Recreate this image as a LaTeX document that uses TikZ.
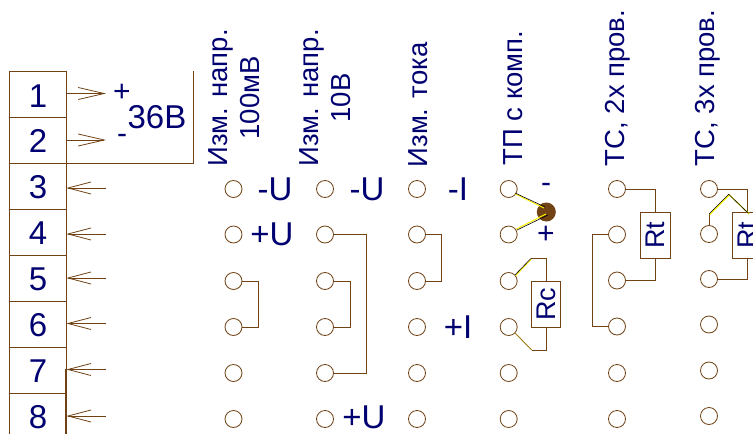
\documentclass[tikz,border=0pt]{standalone}
\usepackage{fontspec}
\setmainfont{Liberation Sans}
\usetikzlibrary{arrows.meta,calc}
\definecolor{wirec}{HTML}{704214}
\definecolor{txtc}{HTML}{000070}
\tikzset{
  wire/.style={draw=wirec,line width=0.8pt},
  cell/.style={draw=wirec,line width=0.8pt,minimum width=57pt,minimum height=46pt,inner sep=0pt,text=txtc},
  term/.style={circle,draw=wirec,line width=0.8pt,minimum size=17pt,inner sep=0pt},
  res/.style={draw=wirec,fill=white,line width=0.8pt,rotate=90,minimum width=46pt,minimum height=29.5pt,inner sep=0pt,text=txtc,font=\fontsize{27}{27}\selectfont},
  lab/.style={text=txtc,inner sep=0pt,font=\fontsize{33}{33}\selectfont},
  smalllab/.style={text=txtc,inner sep=0pt,font=\fontsize{30}{30}\selectfont},
  head/.style={text=txtc,inner sep=0pt,rotate=90,align=center,font=\fontsize{27.5}{32}\selectfont},
  inarrow/.style={wire,-{Straight Barb[length=23pt,width=12pt,line width=0.8pt]}},
  outarrow/.style={wire,-{Straight Barb[length=26pt,width=12pt,line width=0.8pt]}},
  yw/.style={draw=yellow,line width=1pt},
  bw/.style={draw=black,line width=0.6pt}
}
\begin{document}
\begin{tikzpicture}[x=1pt,y=-1pt]
\useasboundingbox (0,0) rectangle (753,434);
\clip (0,0) rectangle (753,434);
% terminal block
\node[cell] (c1) at (37.5,94) {};
\node[cell] (c2) at (37.5,140) {};
\node[cell] (c3) at (37.5,186) {};
\node[cell] (c4) at (37.5,232) {};
\node[cell] (c5) at (37.5,278) {};
\node[cell] (c6) at (37.5,324) {};
\node[cell] (c7) at (37.5,370) {};
\node[cell] (c8) at (37.5,416) {};
\node[lab] (n1) at (38,96) {1};
\node[lab] (n2) at (38,141) {2};
\node[lab] (n3) at (38,187) {3};
\node[lab] (n4) at (38,233) {4};
\node[lab] (n5) at (38,279) {5};
\node[lab] (n6) at (38,325) {6};
\node[lab] (n7) at (38,371) {7};
\node[lab] (n8) at (38,417) {8};
\draw[wire,line width=1.3pt] (66,369) -- (66,434);
% arrows
\coordinate (a1) at (106,93.5);
\coordinate (a2) at (106,140);
\coordinate (a3) at (106,188);
\coordinate (a4) at (106,234);
\coordinate (a5) at (106,278);
\coordinate (a6) at (106,323.5);
\coordinate (a7) at (106,369.5);
\coordinate (a8) at (106,416);
\draw[outarrow] (a1 -| c1.east) -- (a1);
\draw[outarrow] (a2 -| c2.east) -- (a2);
\foreach \i in {3,...,8} \draw[inarrow] (a\i) -- (a\i -| c\i.east);
% 36V bracket
\coordinate (br) at (193.5,71);
\draw[wire] (br) -- (br |- c2.south) -- (c2.south -| c2.east);
\node[smalllab] (plus) at (122,93) {+};
\node[smalllab] (minus) at (122,139) {-};
\node[lab] (v36) at (157,117) {36В};
% terminals
\foreach \n/\x/\a/\b/\c/\d/\e/\f in {1/233.5/189/234.5/281/327/373/419,
  2/325/189/234.5/281/327/373/419,
  3/417/189/234.5/281/327/373/419,
  4/508.7/189/234.5/281/327/373/419,
  5/617/189/234.5/280.5/326.5/373/419,
  6/709/189/234/279/324.5/370.5/416}{
  \node[term] (t\n1) at (\x,\a) {};
  \node[term] (t\n2) at (\x,\b) {};
  \node[term] (t\n3) at (\x,\c) {};
  \node[term] (t\n4) at (\x,\d) {};
  \node[term] (t\n5) at (\x,\e) {};
  \node[term] (t\n6) at (\x,\f) {};
}
% column 1-3 jumpers
\coordinate (j1) at (258.5,0);
\draw[wire] (t13.east) -- (t13.east -| j1) -- (t14.east -| j1) -- (t14.east);
\coordinate (j2) at (350,0);
\draw[wire] (t23.east) -- (t23.east -| j2) -- (t24.east -| j2) -- (t24.east);
\coordinate (j3) at (366.5,0);
\draw[wire] (t22.east) -- (t22.east -| j3) -- (t25.east -| j3) -- (t25.east);
\coordinate (j4) at (441.5,0);
\draw[wire] (t32.east) -- (t32.east -| j4) -- (t33.east -| j4) -- (t33.east);
% labels
\node[lab] (mu1) at (275,189) {-U};
\node[lab] (pu1) at (272,234) {+U};
\node[lab] (mu2) at (367,189) {-U};
\node[lab] (pu2) at (364,417.5) {+U};
\node[lab] (mi) at (458,189) {-I};
\node[lab] (pi) at (458,327) {+I};
% thermocouple
\coordinate (tp1) at (515,193);
\coordinate (tp2) at (517,230);
\node[circle,fill=wirec,minimum size=19pt,inner sep=0pt] (jn) at (546.3,212) {};
\draw[yw] (tp1) ++(0,0.8) -- (544,208);
\draw[bw] (tp1) -- (545,207);
\draw[yw] (tp2) ++(-1,-0.8) -- (546,214);
\draw[bw] (tp2) -- (548,215);
\node[smalllab] (tm) at (546,188) {-};
\node[smalllab] (tpp) at (546,235) {+};
% Rc
\node[res] (rc) at (546,304) {Rc};
\coordinate (rc1) at (530.7,258.7);
\coordinate (rc2) at (531.7,350);
\coordinate (rc3) at (515,275);
\coordinate (rc4) at (515,333);
\draw[wire] (rc1) -- (rc1 -| rc.east) -- (rc.east);
\draw[wire] (rc.west) -- (rc.west |- rc2) -- (rc2);
\draw[yw] ($(rc3)+(0.6,0.6)$) -- ($(rc1)+(0.6,0.6)$);
\draw[bw] (rc3) -- (rc1);
\draw[draw=wirec!70!yellow,line width=0.9pt] (rc4) -- (rc2);
% Rt two-wire
\node[res] (rt) at (655.5,235.3) {Rt};
\draw[wire] (t51.east) -- (t51.east -| rt.east) -- (rt.east);
\draw[wire] (rt.west) -- (rt.west |- t53.east) -- (t53.east);
\coordinate (l5) at (592.3,0);
\draw[wire] (t52.west) -- (t52.west -| l5) -- (t54.west -| l5) -- (t54.west);
% Rt three-wire
\node[res] (ru) at (747.3,235.3) {Rt};
\draw[wire] (t61.east) -- (t61.east -| ru.east) -- (ru.east);
\draw[wire] (ru.west) -- (ru.west |- t63.east) -- (t63.east);
\coordinate (w1) at (709,214);
\coordinate (w2) at (728.7,194.3);
\coordinate (w3) at (748.3,213.3);
\draw[wire] (t62.north) -- (w1);
\draw[yw] ($(w1)+(0.8,0.6)$) -- ($(w2)+(0.8,0.6)$) -- ($(w3)+(0.8,0.6)$);
\draw[bw] (w1) -- (w2) -- (w3);
% headers
\node[head] (h1) at (234,98) {Изм. напр.\\100мВ};
\node[head] (h2) at (325,98) {Изм. напр.\\10В};
\node[head] (h3) at (418,105) {Изм. тока};
\node[head] (h4) at (513,98) {ТП с комп.};
\node[head] (h5) at (618,88) {ТС, 2х пров.};
\node[head] (h6) at (708,88) {ТС, 3х пров.};
\end{tikzpicture}
\end{document}
